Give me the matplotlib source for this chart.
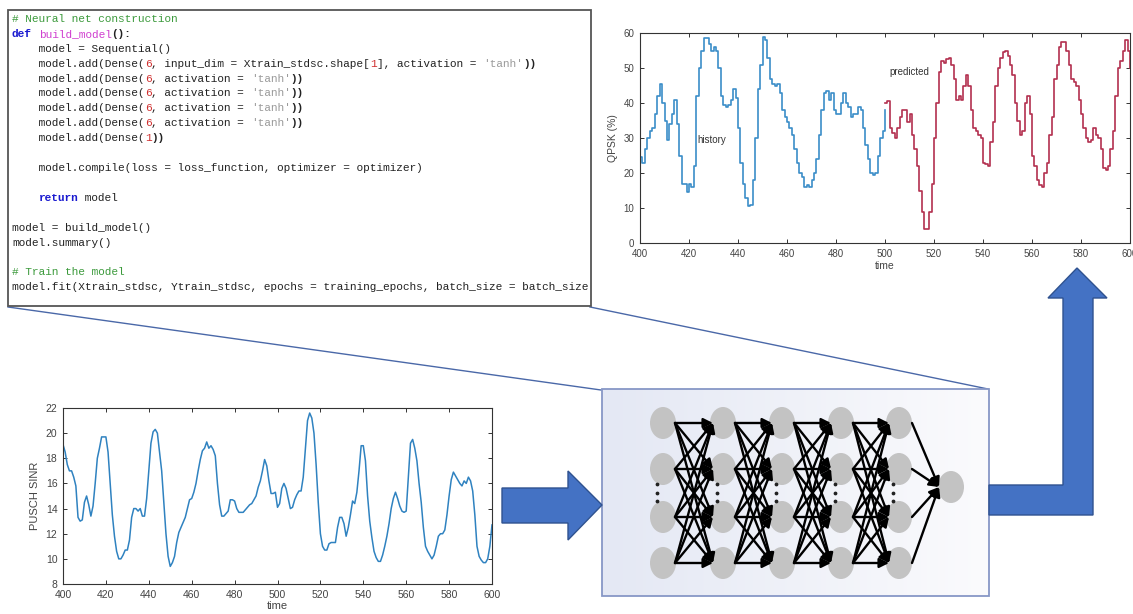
import numpy as np
import matplotlib
matplotlib.use("Agg")
import matplotlib.pyplot as plt
from matplotlib.patches import Rectangle, Polygon, Ellipse, FancyArrowPatch
from matplotlib.colors import LinearSegmentedColormap

# ---------------- data ----------------
hist_t = list(range(400, 501))
hist_v = [24.5, 23, 27, 30, 32, 33, 37, 42, 45.5, 40,
          35, 29.5, 34, 37, 41, 34, 25, 17, 17, 14.5,
          17, 16, 22, 42, 50, 55, 58.5, 58.5, 57, 55,
          56, 55, 50, 42, 39.5, 39, 39.5, 41, 44, 41.5,
          33, 23, 17, 13, 10.5, 11, 18, 30, 44, 51,
          59, 58, 53, 47, 45.5, 45, 45.5, 43, 38, 36,
          34.5, 33, 31, 27, 23, 20, 19, 16, 16.5, 16,
          18, 20, 24, 31, 38, 43, 43.5, 41, 43, 38,
          37, 37, 40, 43, 40, 39, 36, 37, 37, 39,
          38, 33, 28, 24, 20, 19.5, 20, 25, 30, 32,
          38]
pred_t = list(range(500, 601))
pred_v = [40, 40.5, 33, 31.5, 30, 33, 36, 38, 38, 34.5,
          37, 31, 27, 22, 15, 9, 4, 4, 9, 17,
          30, 40, 49, 52, 51.5, 52.5, 53, 51, 47, 41,
          42, 41, 45, 48, 45, 38, 33, 32, 31, 30,
          23, 22.5, 22, 29, 34.5, 45, 50, 53, 54.5, 55,
          53.5, 51, 48, 40, 35, 31, 32, 40, 42, 37,
          25, 22, 18, 16.5, 16, 20, 23, 31, 36, 47,
          51, 56, 57.5, 57.5, 55, 51, 47, 46, 45, 41,
          37, 33, 30, 29, 29.5, 33, 31, 30, 27, 21.5,
          21, 22, 27, 32, 42, 50, 52, 55, 58, 55,
          50]

sinr_t = list(range(400, 601))
sinr_v = [19.1, 18.5, 17.5, 17.0, 17.0, 16.5, 15.8, 13.3, 13.0, 13.1,
          14.5, 15.0, 14.3, 13.4, 14.2, 16.0, 18.0, 18.8, 19.7, 19.7,
          19.7, 18.5, 16.0, 13.5, 11.8, 10.6, 10.0, 10.0, 10.3, 10.7,
          10.7, 11.5, 13.3, 14.0, 14.0, 13.8, 14.0, 13.4, 13.4, 14.8,
          17.0, 19.2, 20.1, 20.3, 20.0, 18.5, 17.0, 14.5, 12.0, 10.2,
          9.4, 9.7, 10.2, 11.3, 12.1, 12.5, 12.9, 13.3, 14.0, 14.7,
          14.8, 15.3, 16.0, 17.0, 17.9, 18.6, 18.8, 19.3, 18.8, 19.0,
          18.7, 18.2, 16.0, 14.3, 13.4, 13.4, 13.6, 13.8, 14.7, 14.7,
          14.6, 14.0, 13.7, 13.7, 13.7, 13.9, 14.1, 14.3, 14.4, 14.7,
          15.0, 15.7, 16.2, 17.0, 17.9, 17.4, 16.2, 15.2, 15.2, 15.3,
          14.1, 14.4, 15.6, 16.0, 15.6, 14.8, 14.0, 14.1, 14.7, 15.1,
          15.4, 15.4, 16.5, 18.8, 21.0, 21.6, 21.2, 20.0, 17.5, 14.5,
          12.0, 11.0, 10.7, 10.7, 11.2, 11.3, 11.3, 11.3, 12.5, 13.3,
          13.3, 12.8, 11.8, 12.5, 13.5, 14.6, 14.4, 15.3, 17.0, 19.0,
          19.0, 17.8, 15.0, 13.0, 11.7, 10.6, 10.1, 9.8, 9.8, 10.3,
          11.0, 11.8, 12.8, 14.0, 14.8, 15.3, 14.8, 14.2, 13.8, 13.7,
          13.8, 16.5, 19.2, 19.5, 18.8, 17.8, 16.0, 14.5, 12.5, 11.0,
          10.6, 10.3, 10.0, 10.3, 11.0, 11.8, 12.0, 12.0, 12.3, 13.5,
          15.0, 16.3, 16.9, 16.6, 16.3, 16.0, 15.8, 16.2, 16.0, 16.5,
          16.2, 15.4, 13.5, 11.0, 10.2, 9.9, 9.7, 9.7, 10.0, 11.0,
          12.7]

top_xticks = list(range(400, 601, 20))
top_yticks = list(range(0, 61, 10))
bot_xticks = list(range(400, 601, 20))
bot_yticks = list(range(8, 23, 2))

# code listing: lines of (text, color, weight) tokens
DK, GR, BL, MG, RD, GY = '#222222', '#3c9a3c', '#1a1ad0', '#d040d0', '#d03030', '#9a9a9a'
code_lines = [
    [("# Neural net construction", GR, 'normal')],
    [("def", BL, 'bold'), (" ", DK, 'normal'), ("build_model", MG, 'normal'), ("():", DK, 'bold')],
    [("    model = Sequential()", DK, 'normal')],
    [("    model.add(Dense(", DK, 'normal'), ("6", RD, 'normal'),
     (", input_dim = Xtrain_stdsc.shape[", DK, 'normal'), ("1", RD, 'normal'),
     ("], activation = ", DK, 'normal'), ("'tanh'", GY, 'normal'), ("))", DK, 'bold')],
    [("    model.add(Dense(", DK, 'normal'), ("6", RD, 'normal'), (", activation = ", DK, 'normal'),
     ("'tanh'", GY, 'normal'), ("))", DK, 'bold')],
    [("    model.add(Dense(", DK, 'normal'), ("6", RD, 'normal'), (", activation = ", DK, 'normal'),
     ("'tanh'", GY, 'normal'), ("))", DK, 'bold')],
    [("    model.add(Dense(", DK, 'normal'), ("6", RD, 'normal'), (", activation = ", DK, 'normal'),
     ("'tanh'", GY, 'normal'), ("))", DK, 'bold')],
    [("    model.add(Dense(", DK, 'normal'), ("6", RD, 'normal'), (", activation = ", DK, 'normal'),
     ("'tanh'", GY, 'normal'), ("))", DK, 'bold')],
    [("    model.add(Dense(", DK, 'normal'), ("1", RD, 'normal'), ("))", DK, 'bold')],
    [],
    [("    model.compile(loss = loss_function, optimizer = optimizer)", DK, 'normal')],
    [],
    [("    ", DK, 'normal'), ("return", BL, 'bold'), (" model", DK, 'normal')],
    [],
    [("model = build_model()", DK, 'normal')],
    [("model.summary()", DK, 'normal')],
    [],
    [("# Train the model", GR, 'normal')],
    [("model.fit(Xtrain_stdsc, Ytrain_stdsc, epochs = training_epochs, batch_size = batch_size", DK, 'normal')],
]

# ---------------- figure ----------------
W, H = 1133, 614
fig = plt.figure(figsize=(W / 100, H / 100), dpi=100)
fig.patch.set_facecolor('white')

bg = fig.add_axes([0, 0, 1, 1])
bg.set_xlim(0, W)
bg.set_ylim(H, 0)
bg.axis('off')
bg.set_zorder(0)


def px_axes(l, t, r, b):
    return fig.add_axes([l / W, 1 - b / H, (r - l) / W, (b - t) / H])


# code box
bg.add_patch(Rectangle((8, 10), 583, 296, facecolor='white', edgecolor='#555555', lw=1.3, zorder=2))
cw = 6.64
fs_code = 7.97
for i, toks in enumerate(code_lines):
    y = 19 + i * 14.9
    col = 0
    for txt, c, wt in toks:
        bg.text(12 + col * cw, y, txt, family='Liberation Mono', fontsize=fs_code, color=c,
                weight=wt, va='center', ha='left', zorder=3)
        col += len(txt)

# connector lines
bg.plot([8, 601], [307, 390], color='#4a68a8', lw=1.0, zorder=1)
bg.plot([590, 988], [307, 389], color='#4a68a8', lw=1.0, zorder=1)

# NN box with gradient
grad = np.linspace(0, 1, 256).reshape(1, -1)
cm = LinearSegmentedColormap.from_list('g', ['#e4e8f4', '#fbfbfd'])
bg.imshow(grad, extent=(602, 989, 596, 389), cmap=cm, aspect='auto', zorder=2)
bg.add_patch(Rectangle((602, 389), 387, 207, facecolor='none', edgecolor='#8797c6', lw=1.3, zorder=3))

cols_x = [663, 723, 782, 841, 899]
rows_y = [423, 469, 517, 563]
out_xy = (951, 487)
ew, eh = 26, 32
for cx in cols_x:
    for ry in rows_y:
        bg.add_patch(Ellipse((cx, ry), ew, eh, facecolor='#c3c3c3', edgecolor='none', zorder=4))
    bg.scatter([cx - 6] * 3, [484, 493, 501], s=3, color='#222222', zorder=5)
bg.add_patch(Ellipse(out_xy, ew, eh, facecolor='#c3c3c3', edgecolor='none', zorder=4))

for k in range(len(cols_x) - 1):
    for y1 in rows_y:
        for y2 in rows_y:
            a = FancyArrowPatch((cols_x[k] + 12, y1), (cols_x[k + 1] - 10, y2),
                                arrowstyle='-|>', mutation_scale=14, lw=1.7, color='black',
                                shrinkA=0, shrinkB=0, zorder=6)
            bg.add_patch(a)
for y1 in rows_y:
    a = FancyArrowPatch((cols_x[-1] + 13, y1), (out_xy[0] - 12, out_xy[1]),
                        arrowstyle='-|>', mutation_scale=14, lw=1.7, color='black',
                        shrinkA=0, shrinkB=0, zorder=6)
    bg.add_patch(a)

# blue block arrows
blue, blue_edge = '#4472c4', '#2f528f'
bg.add_patch(Polygon([(502, 488), (568, 488), (568, 471), (602, 505), (568, 540), (568, 523), (502, 523)],
                     closed=True, facecolor=blue, edgecolor=blue_edge, lw=1.0, zorder=3))
bg.add_patch(Polygon([(989, 485), (1063, 485), (1063, 298), (1048, 298), (1077, 268), (1107, 298),
                      (1093, 298), (1093, 515), (989, 515)],
                     closed=True, facecolor=blue, edgecolor=blue_edge, lw=1.0, zorder=3))

# ---------------- top-right chart ----------------
tick_col = '#444444'
ax1 = px_axes(640, 33, 1130, 243)
ax1.plot(hist_t, hist_v, drawstyle='steps-post', color='#3b8dc8', lw=1.2)
ax1.plot(pred_t, pred_v, drawstyle='steps-post', color='#b3304f', lw=1.2)
ax1.set_xlim(400, 600)
ax1.set_ylim(0, 60)
ax1.set_xticks(top_xticks)
ax1.set_yticks(top_yticks)
ax1.tick_params(direction='in', top=True, right=True, length=3, width=0.7, pad=4,
                labelsize=7, labelcolor=tick_col, color='#333333')
for lab in ax1.get_xticklabels() + ax1.get_yticklabels():
    lab.set_family('Liberation Sans')
for s in ax1.spines.values():
    s.set_color('#333333')
    s.set_linewidth(0.8)
ax1.set_xlabel('time', family='Liberation Sans', fontsize=7.5, color=tick_col, labelpad=2)
ax1.set_ylabel('QPSK (%)', family='Liberation Sans', fontsize=7.5, color=tick_col, labelpad=4)
ax1.text(423.3, 29.5, 'history', family='Liberation Sans', fontsize=7, color='#333333', va='center')
ax1.text(501.6, 48.9, 'predicted', family='Liberation Sans', fontsize=7, color='#333333', va='center')

# ---------------- bottom-left chart ----------------
ax2 = px_axes(63, 408, 492, 584)
ax2.plot(sinr_t, sinr_v, color='#2f82c0', lw=1.1)
ax2.set_xlim(400, 600)
ax2.set_ylim(8, 22)
ax2.set_xticks(bot_xticks)
ax2.set_yticks(bot_yticks)
ax2.tick_params(direction='in', top=True, right=True, length=3, width=0.7, pad=4,
                labelsize=7.5, labelcolor=tick_col, color='#333333')
for lab in ax2.get_xticklabels() + ax2.get_yticklabels():
    lab.set_family('Liberation Sans')
for s in ax2.spines.values():
    s.set_color('#333333')
    s.set_linewidth(0.8)
ax2.set_xlabel('time', family='Liberation Sans', fontsize=8, color=tick_col, labelpad=1)
ax2.set_ylabel('PUSCH SINR', family='Liberation Sans', fontsize=8, color=tick_col, labelpad=4)

fig.savefig('out.png', dpi=100, facecolor='white')
